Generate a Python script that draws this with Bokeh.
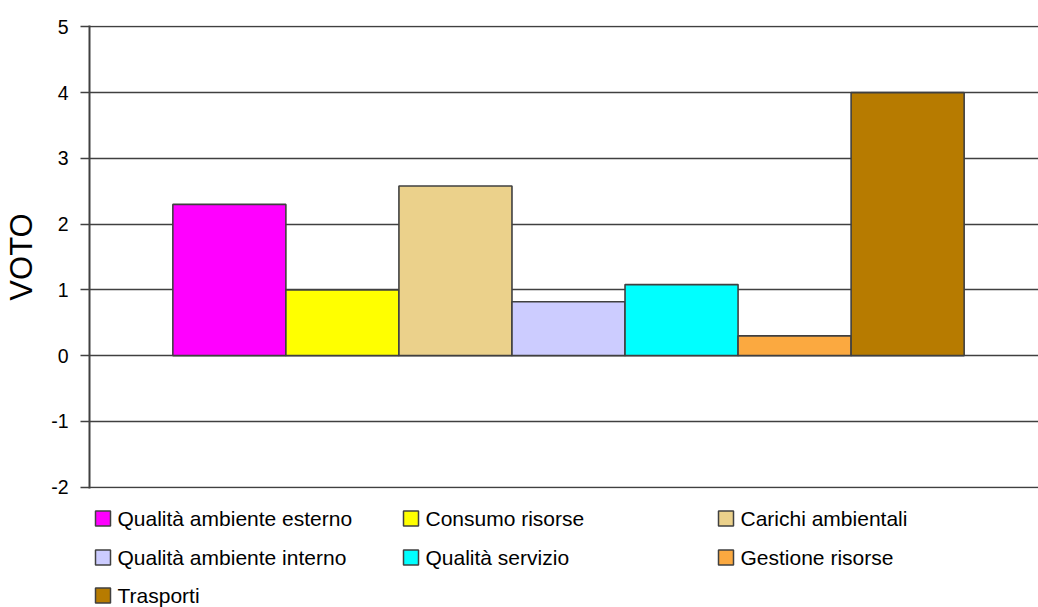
from bokeh.plotting import figure
from bokeh.layouts import column
from bokeh.models import Range1d, FixedTicker, PrintfTickFormatter
from bokeh.core.properties import value
from bokeh.embed import file_html
from bokeh.resources import INLINE

# ---- data ----
series = ["Qualità ambiente esterno", "Consumo risorse", "Carichi ambientali",
          "Qualità ambiente interno", "Qualità servizio", "Gestione risorse", "Trasporti"]
votes = [2.3, 1.0, 2.58, 0.82, 1.08, 0.3, 4.0]
colors = ["#FF00FF", "#FFFF00", "#EBD18B", "#CCCCFF", "#00FFFF", "#FBA940", "#B77B00"]
y_ticks = [-2, -1, 0, 1, 2, 3, 4, 5]
y_title = "VOTO"

FONT = "Liberation Sans"
EDGE = "#404040"

# ---- main chart ----
W = 1038
LEFT = 89
MH = 497
bar_w = 0.118
n = len(series)
xs = [0.5 + (i - (n - 1) / 2) * bar_w for i in range(n)]

p = figure(width=W, height=MH, output_backend="svg", toolbar_location=None,
           x_range=Range1d(0, (W - LEFT) / 958), y_range=Range1d(-2.02, 5.02),
           min_border_left=LEFT, min_border_right=0, min_border_top=25, min_border_bottom=MH - 488)
p.outline_line_color = None
p.xaxis.visible = False
p.xgrid.visible = False

p.vbar(x=xs, width=bar_w, top=votes, bottom=0, fill_color=colors,
       line_color=EDGE, line_width=1.6)

p.yaxis.ticker = FixedTicker(ticks=y_ticks)
p.yaxis.formatter = PrintfTickFormatter(format="%d")
p.yaxis.minor_tick_line_color = None
p.yaxis.major_tick_out = 9
p.yaxis.major_tick_in = 0
p.yaxis.major_tick_line_color = EDGE
p.yaxis.major_tick_line_width = 1.5
p.yaxis.axis_line_color = EDGE
p.yaxis.axis_line_width = 2
p.yaxis.major_label_text_font = FONT
p.yaxis.major_label_text_font_size = "19.5px"
p.yaxis.major_label_text_color = "black"
p.yaxis.major_label_standoff = 12
p.yaxis.axis_label = y_title
p.yaxis.axis_label_text_font = FONT
p.yaxis.axis_label_text_font_size = "31px"
p.yaxis.axis_label_text_font_style = "normal"
p.yaxis.axis_label_text_color = "black"
p.yaxis.axis_label_standoff = 9

p.ygrid.ticker = FixedTicker(ticks=y_ticks)
p.ygrid.grid_line_color = EDGE
p.ygrid.grid_line_width = 1.5

# ---- legend (drawn as its own strip, frame aligned with the chart) ----
LH = 607 - MH
leg = figure(width=W, height=LH, output_backend="svg", toolbar_location=None,
             x_range=Range1d(0, W - LEFT), y_range=Range1d(LH, 0),
             x_axis_location=None, y_axis_location=None,
             min_border_left=LEFT, min_border_right=0, min_border_top=0, min_border_bottom=0)
leg.outline_line_color = None
leg.grid.visible = False

col_left = [6, 314, 629]
row_y = [21, 60, 98]
sq_x, sq_y, tx_x, tx_y = [], [], [], []
for i in range(n):
    c = i % 3
    r = i // 3
    sq_x.append(col_left[c] + 7.5)
    sq_y.append(row_y[r])
    tx_x.append(col_left[c] + 22)
    tx_y.append(row_y[r])

leg.rect(x=sq_x, y=sq_y, width=15, height=15, fill_color=colors,
         line_color=EDGE, line_width=1.5)
leg.text(x=tx_x, y=tx_y, text=series, text_font=value(FONT),
         text_font_size="21px", text_color="black",
         text_align="left", text_baseline="middle")

layout = column(p, leg, spacing=0)
open("out.html", "w").write(file_html(layout, INLINE))
